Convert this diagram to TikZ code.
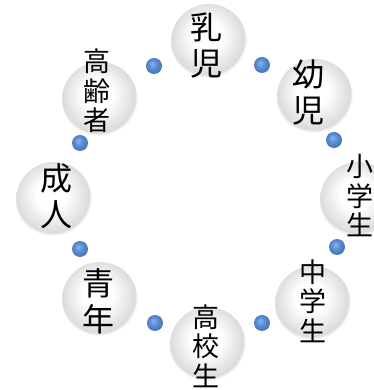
\documentclass[tikz,border=0pt]{standalone}
\usepackage{fontspec}
\newfontfamily\jp{Noto Sans CJK JP}
\definecolor{dotblue}{RGB}{88,140,212}
\definecolor{dotlight}{RGB}{140,180,235}
\pgfdeclareradialshading{spherebg}{\pgfpoint{-2bp}{5bp}}{color(0bp)=(white); color(10bp)=(white); color(20bp)=(gray!20); color(24bp)=(gray!28); color(25bp)=(gray!12); color(26bp)=(white); color(50bp)=(white)}
\pgfdeclareradialshading{dotshade}{\pgfpoint{-6bp}{7bp}}{color(0bp)=(dotlight); color(14bp)=(dotblue); color(25bp)=(dotblue!85!black); color(50bp)=(dotblue!85!black)}
\tikzset{
  sphere/.style={circle, minimum size=76pt, inner sep=0pt, shading=spherebg},
  lbl/.style={align=center, inner sep=0pt, text=black},
  big/.style={lbl, font=\jp\fontsize{32}{36}\selectfont},
  small/.style={lbl, font=\jp\fontsize{27}{29.5}\selectfont},
  bead/.style={circle, minimum size=16pt, inner sep=0pt, shading=dotshade}
}
\begin{document}
\begin{tikzpicture}[x=1pt,y=1pt]
\useasboundingbox (0,0) rectangle (373,390);
% spheres (y = 390 - pixel y)
\node[sphere] (s1) at (209,348) {};
\node[sphere] (s2) at (315,293) {};
\node[sphere] (s3) at (358,190) {};
\node[sphere] (s4) at (313,86) {};
\node[sphere] (s5) at (208,45) {};
\node[sphere] (s6) at (100,90) {};
\node[sphere] (s7) at (54,190) {};
\node[sphere] (s8) at (100,290) {};
% labels
\node[big] (t1) at (206,345) {乳\\児};
\node[big] (t2) at (308,298) {幼\\児};
\node[small] (t3) at (360,194) {小\\学\\生};
\node[small] (t4) at (313,89) {中\\学\\生};
\node[small] (t5) at (206,44) {高\\校\\生};
\node[big] (t6) at (98,89) {青\\年};
\node[big] (t7) at (56,194) {成\\人};
\node[small] (t8) at (97,299) {高\\齢\\者};
% beads
\node[bead] (d1) at (154,324) {};
\node[bead] (d2) at (262,325) {};
\node[bead] (d3) at (334,250) {};
\node[bead] (d4) at (337,143) {};
\node[bead] (d5) at (262,67) {};
\node[bead] (d6) at (155,67) {};
\node[bead] (d7) at (80,141) {};
\node[bead] (d8) at (80,247) {};
\end{tikzpicture}
\end{document}
